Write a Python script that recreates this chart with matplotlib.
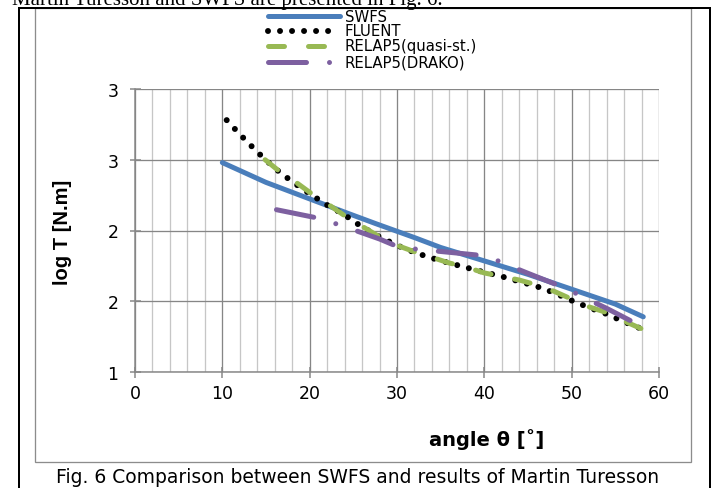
import matplotlib
matplotlib.use("Agg")
import matplotlib.pyplot as plt
from matplotlib.lines import Line2D
from matplotlib.patches import Rectangle
from matplotlib.ticker import MultipleLocator, NullLocator, FixedLocator

plt.rcParams['lines.scale_dashes'] = False
plt.rcParams['font.family'] = ['DejaVu Sans']

# ---- data -------------------------------------------------------------
swfs_x = [10, 15, 18, 21, 24, 27.5, 32, 35, 40, 45, 50, 55, 58.2]
swfs_y = [2.48, 2.34, 2.27, 2.20, 2.13, 2.05, 1.95, 1.88, 1.785, 1.69, 1.585, 1.48, 1.39]

fluent_x = [10.5, 12, 14, 16, 18, 20, 22, 24, 26, 28, 30, 32, 34, 36, 38,
            40, 42, 44, 46, 48, 50, 52, 54, 56, 58.2]
fluent_y = [2.78, 2.68, 2.555, 2.44, 2.345, 2.26, 2.18, 2.11, 2.025, 1.955,
            1.895, 1.845, 1.805, 1.77, 1.737, 1.705, 1.675, 1.64, 1.605,
            1.56, 1.505, 1.455, 1.41, 1.355, 1.30]

quasi_x = [14.9, 16.5, 18, 20, 22, 24, 26, 28, 30, 32, 34, 36, 38, 40, 42,
           44, 46, 48, 50, 52, 54, 56, 58.2]
quasi_y = [2.50, 2.42, 2.36, 2.27, 2.19, 2.105, 2.03, 1.955, 1.895, 1.85,
           1.81, 1.77, 1.74, 1.70, 1.675, 1.65, 1.615, 1.57, 1.515, 1.46,
           1.42, 1.36, 1.30]

drako_x = [16.2, 21, 23.4, 25.7, 28, 30.3, 35.3, 40.3, 42.5, 44.9, 49.4, 51.6, 54, 58.2]
drako_y = [2.147, 2.087, 2.04, 1.99, 1.94, 1.88, 1.85, 1.82, 1.76, 1.70,
           1.59, 1.52, 1.45, 1.316]

series_labels = ["SWFS", "FLUENT", "RELAP5(quasi-st.)", "RELAP5(DRAKO)"]

y_ticks = [1.0, 1.5, 2.0, 2.5, 3.0]
y_tick_labels = ["1", "2", "2", "3", "3"]
x_ticks = [0, 10, 20, 30, 40, 50, 60]

# ---- layout helpers ---------------------------------------------------
W, H = 712, 489
PT = 0.72  # points per pixel at 100 dpi


def fx(px):
    return px / W


def fy(py):
    return 1 - py / H


fig = plt.figure(figsize=(W / 100, H / 100), dpi=100)

# outer page frame and chart border
for xs, ys in [([18.5, 18.5], [8.5, 489]), ([18.5, 709.5], [8.5, 8.5]),
               ([709.5, 709.5], [8.5, 489])]:
    fig.add_artist(Line2D([fx(v) for v in xs], [fy(v) for v in ys],
                          transform=fig.transFigure, color='black', lw=2 * PT))
fig.add_artist(Rectangle((fx(35), fy(463)), fx(691) - fx(35), fy(9) - fy(463),
                         transform=fig.transFigure, fill=False,
                         edgecolor='#8c8c8c', lw=1.3 * PT))

ax = fig.add_axes([fx(135), fy(373), fx(659) - fx(135), fy(90) - fy(373)])
ax.set_xlim(0, 60)
ax.set_ylim(1, 3)
ax.patch.set_alpha(0)

ax.xaxis.set_major_locator(FixedLocator(x_ticks))
ax.xaxis.set_minor_locator(MultipleLocator(2))
ax.yaxis.set_major_locator(FixedLocator(y_ticks))
ax.yaxis.set_minor_locator(NullLocator())
ax.set_yticklabels(y_tick_labels)

grid_major = '#868686'
ax.grid(which='major', color=grid_major, lw=1.3 * PT)
ax.grid(which='minor', axis='x', color='#c6c6c6', lw=1.3 * PT)
ax.set_axisbelow(True)

for side in ('top', 'right'):
    ax.spines[side].set_visible(False)
for side in ('left', 'bottom'):
    ax.spines[side].set_color(grid_major)
    ax.spines[side].set_linewidth(1.5 * PT)

ax.tick_params(which='major', direction='inout', length=11 * PT,
               width=1.5 * PT, color=grid_major, labelsize=12.5,
               labelcolor='black')
ax.tick_params(axis='y', which='major', pad=8)
ax.tick_params(axis='x', which='major', pad=5)
ax.tick_params(which='minor', length=0)

# ---- series -----------------------------------------------------------
styles = [
    dict(color='#4A7EBB', lw=5 * PT, linestyle='-', solid_capstyle='round'),
    dict(color='black', lw=6 * PT, linestyle=(0, (0.01, 12 * PT)),
         dash_capstyle='round'),
    dict(color='#98B954', lw=5 * PT, linestyle=(0, (16 * PT, 24 * PT)),
         dash_capstyle='round'),
    dict(color='#7D60A0', lw=5 * PT,
         linestyle=(0, (38 * PT, 23 * PT, 0.01, 23 * PT)),
         dash_capstyle='round'),
]

data = [(swfs_x, swfs_y), (fluent_x, fluent_y), (quasi_x, quasi_y), (drako_x, drako_y)]
for (xs, ys), st, lab in zip(data, styles, series_labels):
    ax.plot(xs, ys, label=lab, **st)

# ---- legend (stacked entries above the plot) -----------------------------
leg_rows = [17, 32, 47, 63]
for row, st, lab in zip(leg_rows, styles, series_labels):
    fig.add_artist(Line2D([fx(268), fx(340)], [fy(row), fy(row)],
                          transform=fig.transFigure, **st))
    fig.text(fx(345), fy(row), lab, ha='left', va='center', fontsize=10.7)

# ---- titles and surrounding text -----------------------------------------
fig.text(fx(62), fy(232), "log T [N.m]", rotation=90, ha='center', va='center',
         fontsize=14.5, weight='bold', family='Liberation Sans')
fig.text(fx(487), fy(440), "angle θ [˚]", ha='center', va='center',
         fontsize=14, weight='bold')
fig.text(fx(358), fy(483.5), "Fig. 6 Comparison between SWFS and results of Martin Turesson",
         ha='center', va='baseline', fontsize=13.5)
fig.text(fx(12), fy(5), "Martin Turesson and SWFS are presented in Fig. 6.",
         ha='left', va='baseline', fontsize=15, family='Liberation Serif')

fig.savefig("out.png", dpi=100)
